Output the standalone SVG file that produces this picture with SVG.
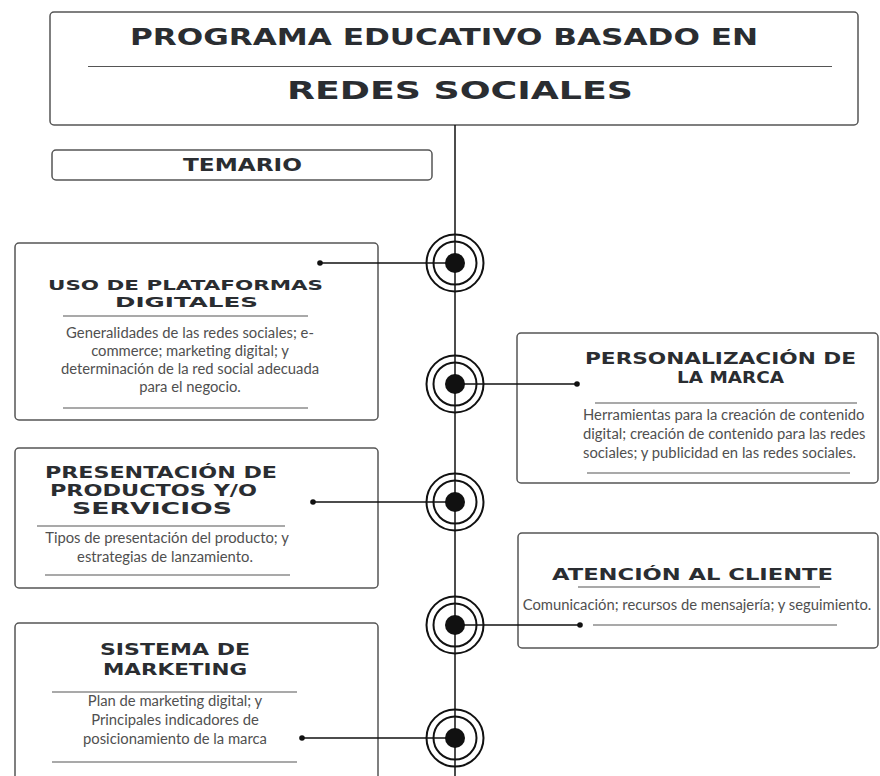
<svg xmlns="http://www.w3.org/2000/svg" width="880" height="776" viewBox="0 0 880 776">
<style>
.box{fill:#fff;stroke:#555;stroke-width:1.5}
.div{stroke:#555;stroke-width:1.2}
.hd{font-family:"DejaVu Sans","Liberation Sans",sans-serif;font-weight:bold;fill:#2a2d31;text-anchor:middle}
.bd{font-family:Lato,"Open Sans","Liberation Sans",sans-serif;font-size:14.8px;fill:#505050;text-anchor:middle}
.ln{stroke:#111;stroke-width:1.5;fill:none}
.ring{fill:none;stroke:#111;stroke-width:2}
.dot{fill:#111}
</style>
<rect width="880" height="776" fill="#fff"/>
<g id="title">
<rect class="box" x="50" y="12" width="808" height="113" rx="4"/>
<text class="hd" x="444" y="45" font-size="23" textLength="628" lengthAdjust="spacingAndGlyphs">PROGRAMA EDUCATIVO BASADO EN</text>
<line class="div" x1="88" y1="66.5" x2="832" y2="66.5"/>
<text class="hd" x="460" y="99" font-size="25" textLength="346" lengthAdjust="spacingAndGlyphs">REDES SOCIALES</text>
</g>
<g id="temario">
<rect class="box" x="52" y="150" width="380" height="30" rx="4"/>
<text class="hd" x="242.5" y="171" font-size="17" textLength="119" lengthAdjust="spacingAndGlyphs">TEMARIO</text>
</g>
<g id="uso">
<rect class="box" x="15" y="243" width="363" height="177" rx="4"/>
<text class="hd" x="185.5" y="290" font-size="14.5" textLength="275" lengthAdjust="spacingAndGlyphs">USO DE PLATAFORMAS</text>
<text class="hd" x="186.5" y="307" font-size="14.5" textLength="143" lengthAdjust="spacingAndGlyphs">DIGITALES</text>
<line class="div" x1="63" y1="316" x2="308" y2="316"/>
<text class="bd" x="190" y="338">Generalidades de las redes sociales; e-</text>
<text class="bd" x="190" y="356">commerce; marketing digital; y</text>
<text class="bd" x="190" y="374">determinación de la red social adecuada</text>
<text class="bd" x="190" y="392">para  el negocio.</text>
<line class="div" x1="63" y1="408" x2="308" y2="408"/>
</g>
<g id="personalizacion">
<rect class="box" x="517" y="333" width="361" height="150" rx="4"/>
<text class="hd" x="720.5" y="364" font-size="16" textLength="271" lengthAdjust="spacingAndGlyphs">PERSONALIZACIÓN DE</text>
<text class="hd" x="730.5" y="383" font-size="16" textLength="107" lengthAdjust="spacingAndGlyphs">LA MARCA</text>
<line class="div" x1="595" y1="403" x2="857" y2="403"/>
<text class="bd" x="583" y="420" style="text-anchor:start">Herramientas para la creación de contenido</text>
<text class="bd" x="583" y="439" style="text-anchor:start">digital; creación de contenido para las redes</text>
<text class="bd" x="583" y="458" style="text-anchor:start">sociales; y publicidad en las redes sociales.</text>
<line class="div" x1="587" y1="473" x2="850" y2="473"/>
</g>
<g id="presentacion">
<rect class="box" x="15" y="448" width="363" height="140" rx="4"/>
<text class="hd" x="161" y="478" font-size="16" textLength="232" lengthAdjust="spacingAndGlyphs">PRESENTACIÓN DE</text>
<text class="hd" x="153.5" y="496" font-size="16" textLength="207" lengthAdjust="spacingAndGlyphs">PRODUCTOS Y/O</text>
<text class="hd" x="152" y="514" font-size="16" textLength="160" lengthAdjust="spacingAndGlyphs">SERVICIOS</text>
<line class="div" x1="37" y1="526" x2="285" y2="526"/>
<text class="bd" x="167" y="543">Tipos de presentación del producto; y</text>
<text class="bd" x="165" y="562">estrategias de lanzamiento.</text>
<line class="div" x1="45" y1="575" x2="290" y2="575"/>
</g>
<g id="atencion">
<rect class="box" x="518" y="533" width="360" height="115" rx="4"/>
<text class="hd" x="692.5" y="580" font-size="16" textLength="281" lengthAdjust="spacingAndGlyphs">ATENCIÓN AL CLIENTE</text>
<line class="div" x1="578" y1="587" x2="820" y2="587"/>
<text class="bd" x="697" y="610">Comunicación; recursos de mensajería; y seguimiento.</text>
<line class="div" x1="593" y1="625" x2="837" y2="625"/>
</g>
<g id="sistema">
<rect class="box" x="15" y="623" width="363" height="170" rx="4"/>
<text class="hd" x="175" y="655" font-size="16" textLength="150" lengthAdjust="spacingAndGlyphs">SISTEMA DE</text>
<text class="hd" x="175" y="675" font-size="16" textLength="144" lengthAdjust="spacingAndGlyphs">MARKETING</text>
<line class="div" x1="52" y1="692" x2="297" y2="692"/>
<text class="bd" x="175" y="706">Plan de marketing digital; y</text>
<text class="bd" x="175" y="725">Principales indicadores de</text>
<text class="bd" x="175" y="744">posicionamiento de la marca</text>
<line class="div" x1="52" y1="762" x2="297" y2="762"/>
</g>
<g id="connectors">
<line class="ln" x1="455" y1="125" x2="455" y2="776"/>
<line class="ln" x1="320" y1="263" x2="455" y2="263"/>
<circle class="dot" cx="320" cy="263" r="2.8"/>
<line class="ln" x1="455" y1="384" x2="577" y2="384"/>
<circle class="dot" cx="577" cy="384" r="2.8"/>
<line class="ln" x1="313" y1="502" x2="455" y2="502"/>
<circle class="dot" cx="313" cy="502" r="2.8"/>
<line class="ln" x1="455" y1="625" x2="580" y2="625"/>
<circle class="dot" cx="580" cy="625" r="2.8"/>
<line class="ln" x1="302" y1="738" x2="455" y2="738"/>
<circle class="dot" cx="302" cy="738" r="2.8"/>
</g>
<g id="ring1">
<circle class="ring" cx="455" cy="263" r="28.5"/><circle class="ring" cx="455" cy="263" r="21.5"/><circle class="dot" cx="455" cy="263" r="10"/>
</g>
<g id="ring2">
<circle class="ring" cx="455" cy="384" r="28.5"/><circle class="ring" cx="455" cy="384" r="21.5"/><circle class="dot" cx="455" cy="384" r="10"/>
</g>
<g id="ring3">
<circle class="ring" cx="455" cy="502" r="28.5"/><circle class="ring" cx="455" cy="502" r="21.5"/><circle class="dot" cx="455" cy="502" r="10"/>
</g>
<g id="ring4">
<circle class="ring" cx="455" cy="625" r="28.5"/><circle class="ring" cx="455" cy="625" r="21.5"/><circle class="dot" cx="455" cy="625" r="10"/>
</g>
<g id="ring5">
<circle class="ring" cx="455" cy="738" r="28.5"/><circle class="ring" cx="455" cy="738" r="21.5"/><circle class="dot" cx="455" cy="738" r="10"/>
</g>
</svg>
